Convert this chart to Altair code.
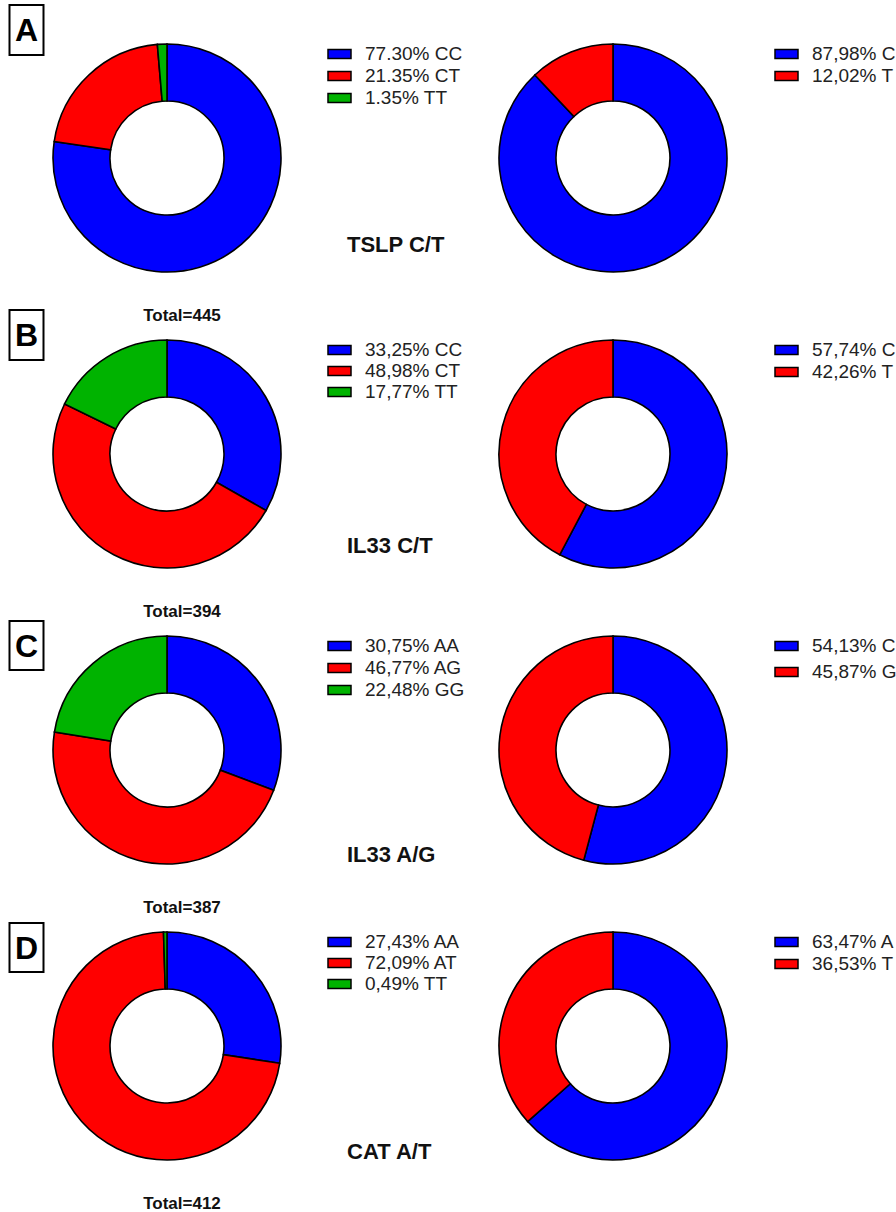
import altair as alt
import pandas as pd

# ---------------- data ----------------
panel_letters = ["A", "B", "C", "D"]
gene_titles = ["TSLP C/T", "IL33 C/T", "IL33 A/G", "CAT A/T"]
totals = [445, 394, 387, 412]

genotype_names = [["CC", "CT", "TT"], ["CC", "CT", "TT"], ["AA", "AG", "GG"], ["AA", "AT", "TT"]]
genotype_pct = [[77.30, 21.35, 1.35], [33.25, 48.98, 17.77], [30.75, 46.77, 22.48], [27.43, 72.09, 0.49]]
genotype_sep = [".", ",", ",", ","]

allele_names = [["C", "T"], ["C", "T"], ["C", "G"], ["A", "T"]]
allele_pct = [[87.98, 12.02], [57.74, 42.26], [54.13, 45.87], [63.47, 36.53]]
allele_sep = [",", ",", ",", ","]

slice_colors = ["#0000FF", "#FF0000", "#00B300"]

# ---------------- layout ----------------
W, H = 896, 1212
FONT = "Liberation Sans"
row_cy = [158, 454, 750, 1046]
donut_cx = [167, 613]
R_OUT, R_IN = 114, 57
legend_swatch_x = [328, 775]
legend_text_x = [365, 812]
legend_first_dy = -104
legend_step = [[22, 22], [21, 22], [22, 26], [21, 22]]
box_y = [(5, 55), (310, 360), (621, 670), (923, 972)]
title_y = [245, 546, 855, 1152]
total_dy = 158

layers = []
for r in range(4):
    sets = [(genotype_names[r], genotype_pct[r], genotype_sep[r]),
            (allele_names[r], allele_pct[r], allele_sep[r])]
    for s, (names, pct, sep) in enumerate(sets):
        n = len(names)
        df = pd.DataFrame({
            "name": names,
            "pct": pct,
            "idx": list(range(n)),
            "color": slice_colors[:n],
            "label": [f"{v:.2f}%".replace(".", sep) + " " + nm for v, nm in zip(pct, names)],
        })
        cx, cy = donut_cx[s], row_cy[r]
        arc = alt.Chart(df).mark_arc(
            innerRadius=R_IN, outerRadius=R_OUT, stroke="black", strokeWidth=1.6
        ).encode(
            theta=alt.Theta("pct:Q", stack=True),
            color=alt.Color("color:N", scale=None),
            order=alt.Order("idx:Q"),
            x=alt.value(cx),
            y=alt.value(cy),
        )
        layers.append(arc)

        ly0 = cy + legend_first_dy
        step = legend_step[r][s]
        sx = legend_swatch_x[s]
        sw = alt.Chart(df).transform_calculate(
            y0=f"{ly0 - 4.5} + datum.idx*{step}",
            y1=f"{ly0 + 4.5} + datum.idx*{step}",
        ).mark_rect(stroke="black", strokeWidth=1.5).encode(
            x=alt.value(sx),
            x2=alt.value(sx + 23),
            y=alt.Y("y0:Q", scale=None, axis=None),
            y2=alt.Y2("y1:Q"),
            color=alt.Color("color:N", scale=None),
        )
        layers.append(sw)

        tx = alt.Chart(df).transform_calculate(
            yc=f"{ly0} + datum.idx*{step}"
        ).mark_text(
            align="left", baseline="middle", font=FONT, fontSize=19, color="#222222"
        ).encode(
            x=alt.value(legend_text_x[s]),
            y=alt.Y("yc:Q", scale=None, axis=None),
            text="label:N",
        )
        layers.append(tx)

    # panel letter box
    ann = pd.DataFrame({
        "letter": [panel_letters[r]],
        "title": [gene_titles[r]],
        "total": [f"Total={totals[r]}"],
    })
    y0, y1 = box_y[r]
    box = alt.Chart(ann).mark_rect(fill="white", stroke="black", strokeWidth=2).encode(
        x=alt.value(9.5), x2=alt.value(43.5), y=alt.value(y0), y2=alt.value(y1)
    )
    letter = alt.Chart(ann).mark_text(
        font=FONT, fontSize=32, fontWeight="bold", align="center", baseline="middle", color="black"
    ).encode(x=alt.value(26.5), y=alt.value((y0 + y1) / 2 + 1), text="letter:N")
    title = alt.Chart(ann).mark_text(
        font=FONT, fontSize=22, fontWeight="bold", align="left", baseline="middle", color="#111111"
    ).encode(x=alt.value(347), y=alt.value(title_y[r]), text="title:N")
    total = alt.Chart(ann).mark_text(
        font=FONT, fontSize=17, fontWeight="bold", align="center", baseline="middle", color="#111111"
    ).encode(x=alt.value(182), y=alt.value(row_cy[r] + total_dy), text="total:N")
    layers += [box, letter, title, total]

chart = alt.layer(*layers).resolve_scale(theta="independent").properties(
    width=W, height=H, padding=0, autosize=alt.AutoSizeParams(type="none"), background="white"
).configure_view(stroke=None)

chart.save("out.html", embed_options={"renderer": "svg", "actions": False})
